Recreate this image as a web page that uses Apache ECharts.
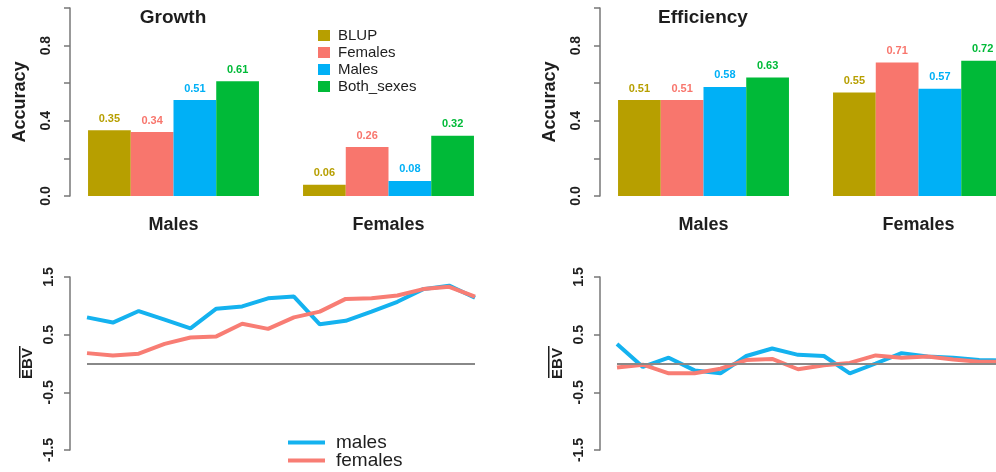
<!DOCTYPE html>
<html>
<head>
<meta charset="utf-8">
<script src="https://cdn.jsdelivr.net/npm/echarts@6/dist/echarts.min.js"></script>
<style>
  html, body { margin: 0; padding: 0; background: #fff; overflow: hidden; }
  /* a bit wider than the window: the right panels run past the edge like in the original */
  #chart { width: 1040px; height: 472px; }
</style>
</head>
<body>
<div id="chart"></div>
<script>
// bar data (accuracy)
var groups = ['Males', 'Females'];
var methods = ['BLUP', 'Females', 'Males', 'Both_sexes'];
var growthAcc = {
  BLUP: [0.35, 0.06],
  Females: [0.34, 0.26],
  Males: [0.51, 0.08],
  Both_sexes: [0.61, 0.32]
};
var effAcc = {
  BLUP: [0.51, 0.55],
  Females: [0.51, 0.71],
  Males: [0.58, 0.57],
  Both_sexes: [0.63, 0.72]
};

// mean EBV per generation
var generations = ['1','2','3','4','5','6','7','8','9','10','11','12','13','14','15','16'];
var growthMales = [0.80, 0.71, 0.91, 0.76, 0.61, 0.95, 0.99, 1.13, 1.16, 0.68, 0.74, 0.90, 1.07, 1.29, 1.35, 1.14];
var growthFemales = [0.18, 0.14, 0.17, 0.34, 0.45, 0.47, 0.69, 0.60, 0.80, 0.90, 1.12, 1.13, 1.18, 1.29, 1.33, 1.16];
var effMales = [0.34, -0.06, 0.10, -0.12, -0.17, 0.13, 0.26, 0.15, 0.13, -0.17, 0.00, 0.18, 0.12, 0.10, 0.06, 0.05];
var effFemales = [-0.07, -0.02, -0.17, -0.17, -0.09, 0.06, 0.08, -0.10, -0.03, 0.01, 0.14, 0.10, 0.12, 0.07, 0.03, 0.03];

var accTicks = ['0.0', '0.4', '0.8'];
var ebvTicks = ['1.5', '0.5', '-0.5', '-1.5'];

var colors = {
  BLUP: '#B79F00',
  Females: '#F8766D',
  Males: '#00B0F6',
  Both_sexes: '#00BA38'
};
var lineBlue = '#14B2EF';
var lineRed = '#F87D74';
var axisGray = '#777';
var txt = '#1e1e1e';
var font = 'Liberation Sans, Arial, sans-serif';

var chart = echarts.init(document.getElementById('chart'));

function accAxis (gridIndex) {
  return {
    type: 'value', gridIndex: gridIndex, min: 0, max: 1, interval: 0.2,
    offset: -4,
    name: 'Accuracy', nameLocation: 'middle', nameRotate: 90, nameGap: 41,
    nameTextStyle: { fontFamily: font, fontWeight: 'bold', fontSize: 18, color: txt },
    splitLine: { show: false },
    axisLine: { show: true, lineStyle: { color: axisGray, width: 1.5 } },
    axisTick: { show: true, length: 6, lineStyle: { color: axisGray, width: 1.5 } },
    axisLabel: {
      rotate: 90, margin: 17, fontFamily: font, fontWeight: 'bold', fontSize: 14, color: txt,
      formatter: function (v) {
        var s = v.toFixed(1);
        return accTicks.indexOf(s) >= 0 ? s : '';
      }
    }
  };
}

function ebvAxis (gridIndex) {
  return {
    type: 'value', gridIndex: gridIndex, min: -1.5, max: 1.5, interval: 1,
    offset: 17,
    name: 'EBV', nameLocation: 'middle', nameRotate: 90, nameGap: 35,
    nameTextStyle: { fontFamily: font, fontWeight: 'bold', fontSize: 15, color: txt },
    splitLine: { show: false },
    axisLine: { show: true, lineStyle: { color: axisGray, width: 1.5 } },
    axisTick: { show: true, length: 6, lineStyle: { color: axisGray, width: 1.5 } },
    axisLabel: {
      rotate: 90, margin: 14, fontFamily: font, fontWeight: 'bold', fontSize: 14, color: txt,
      formatter: function (v) {
        var s = String(Math.round(v * 10) / 10);
        if (s.indexOf('.') < 0) s = s + '.0';
        return ebvTicks.indexOf(s) >= 0 ? s : '';
      }
    }
  };
}

function groupAxis (gridIndex) {
  return {
    type: 'category', gridIndex: gridIndex, data: groups,
    axisLine: { show: false }, axisTick: { show: false },
    axisLabel: { margin: 20, fontFamily: font, fontWeight: 'bold', fontSize: 18, color: txt }
  };
}

function genAxis (gridIndex) {
  return {
    type: 'category', gridIndex: gridIndex, data: generations, boundaryGap: false,
    axisLine: { show: false }, axisTick: { show: false }, axisLabel: { show: false }
  };
}

function barSeries (acc, idx) {
  return methods.map(function (m) {
    return {
      name: m, type: 'bar', xAxisIndex: idx, yAxisIndex: idx,
      data: acc[m], barGap: '0%', barCategoryGap: '20.5%',
      itemStyle: { color: colors[m] },
      label: {
        show: true, position: 'top', distance: 6,
        fontFamily: font, fontWeight: 'bold', fontSize: 11, color: colors[m],
        formatter: function (p) { return p.value.toFixed(2); }
      }
    };
  });
}

function lineSeries (name, data, color, idx, withZero) {
  var s = {
    name: name, type: 'line', xAxisIndex: idx, yAxisIndex: idx,
    data: data, symbol: 'none', smooth: false,
    lineStyle: { color: color, width: 4 }, itemStyle: { color: color }
  };
  if (withZero) {
    // horizontal reference line at 0
    s.markLine = {
      silent: true, symbol: ['none', 'none'], label: { show: false },
      lineStyle: { color: '#888', width: 2, type: 'solid' },
      data: [{ yAxis: 0 }]
    };
  }
  return s;
}

function lineLegend (name, top) {
  return {
    data: [name], orient: 'horizontal', left: 283, top: top,
    icon: 'rect', itemWidth: 37, itemHeight: 4, itemGap: 0,
    textStyle: { fontFamily: font, fontSize: 19, color: txt, padding: [0, 0, 0, 6] },
    selectedMode: false
  };
}

chart.setOption({
  animation: false,
  textStyle: { fontFamily: font },
  grid: [
    { left: 66, top: 8, width: 430, height: 188 },
    { left: 596, top: 8, width: 430, height: 188 },
    { left: 87, top: 277, width: 388, height: 173 },
    { left: 617, top: 277, width: 388, height: 173 }
  ],
  xAxis: [groupAxis(0), groupAxis(1), genAxis(2), genAxis(3)],
  yAxis: [accAxis(0), accAxis(1), ebvAxis(2), ebvAxis(3)],
  legend: [
    {
      data: methods, orient: 'vertical', left: 313, top: 22,
      icon: 'rect', itemWidth: 12, itemHeight: 11, itemGap: 0,
      textStyle: { fontFamily: font, fontSize: 15, color: txt, padding: [0, 0, 0, 3], lineHeight: 17 },
      selectedMode: false
    },
    lineLegend('males', 428),
    lineLegend('females', 446)
  ],
  graphic: [
    { type: 'text', x: 173, y: 18, style: { text: 'Growth', align: 'center', verticalAlign: 'middle', textAlign: 'center', textVerticalAlign: 'middle', font: 'bold 19px ' + font, fill: txt } },
    { type: 'text', x: 703, y: 18, style: { text: 'Efficiency', align: 'center', verticalAlign: 'middle', textAlign: 'center', textVerticalAlign: 'middle', font: 'bold 19px ' + font, fill: txt } },
    // overline on EBV
    { type: 'rect', shape: { x: 19, y: 346, width: 1.5, height: 32 }, style: { fill: txt } },
    { type: 'rect', shape: { x: 548, y: 346, width: 1.5, height: 32 }, style: { fill: txt } }
  ],
  series: [].concat(
    barSeries(growthAcc, 0),
    barSeries(effAcc, 1),
    [
      lineSeries('males', growthMales, lineBlue, 2, false),
      lineSeries('females', growthFemales, lineRed, 2, true),
      lineSeries('males', effMales, lineBlue, 3, false),
      lineSeries('females', effFemales, lineRed, 3, true)
    ]
  )
});
</script>
</body>
</html>
